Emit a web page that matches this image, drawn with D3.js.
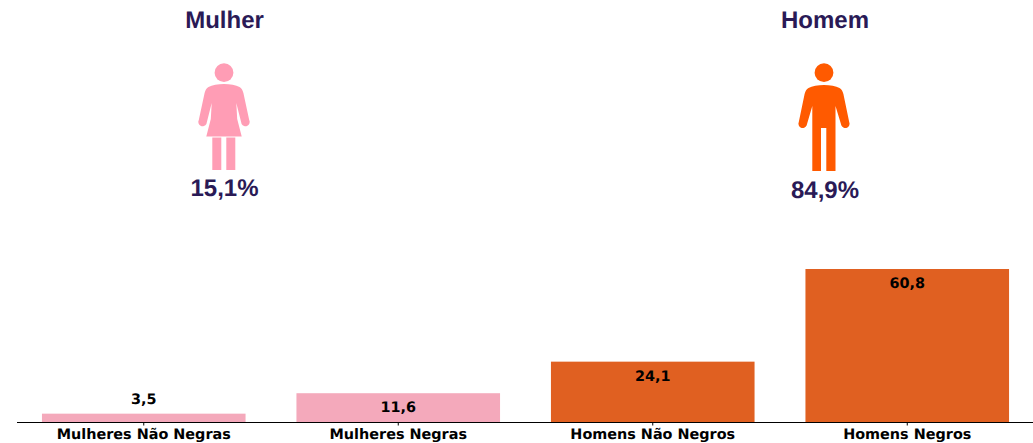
<!DOCTYPE html>
<html>
<head>
<meta charset="utf-8">
<script src="https://cdn.jsdelivr.net/npm/d3@7/dist/d3.min.js"></script>
<style>
html,body{margin:0;padding:0;background:#fff;overflow:hidden}
svg{display:block}
text{text-rendering:geometricPrecision}
</style>
</head>
<body>
<svg id="chart" width="1033" height="443"></svg>
<script>
const categories = ["Mulheres Não Negras", "Mulheres Negras", "Homens Não Negros", "Homens Negros"];
const values = [3.5, 11.6, 24.1, 60.8];
const valueLabels = ["3,5", "11,6", "24,1", "60,8"];
const barColors = ["#f4a9bb", "#f4a9bb", "#e06021", "#e06021"];
const labelOffsets = [-14.5, 14, 14, 13.5];
const groupTitles = ["Mulher", "Homem"];
const groupShares = ["15,1%", "84,9%"];
const groupColors = ["#ff9db5", "#ff5a00"];
const iconCentres = [224, 824];
const textCentres = [224.5, 825];
const textColor = "#2a1a56";

const svg = d3.select("#chart");
const x = d3.scaleBand().domain(categories).range([16.5, 1034.5]).paddingInner(0.2).paddingOuter(0.1);
const y = d3.scaleLinear().domain([0, 60.8]).range([422.5, 269]);

svg.selectAll("rect.bar").data(categories).join("rect")
  .attr("class", "bar")
  .attr("x", d => x(d))
  .attr("width", x.bandwidth())
  .attr("y", (d, i) => y(values[i]))
  .attr("height", (d, i) => y(0) - y(values[i]))
  .attr("fill", (d, i) => barColors[i]);

const axis = svg.append("g").attr("transform", "translate(0,422)")
  .call(d3.axisBottom(x).tickSize(3.5).tickPadding(3).tickSizeOuter(0));
axis.select(".domain").attr("stroke", "#000").attr("stroke-width", 1);
axis.selectAll(".tick line").attr("stroke", "#000").attr("stroke-width", 1);
axis.selectAll(".tick text")
  .attr("fill", "#000")
  .style("font", "bold 14.4px 'DejaVu Sans'");

svg.selectAll("text.val").data(categories).join("text")
  .attr("class", "val")
  .attr("x", d => x(d) + x.bandwidth() / 2)
  .attr("y", (d, i) => y(values[i]) + labelOffsets[i])
  .attr("dy", "0.35em")
  .attr("text-anchor", "middle")
  .attr("fill", "#000")
  .style("font", "bold 14.4px 'DejaVu Sans'")
  .text((d, i) => valueLabels[i]);

const womanPath = "M0,84 C6,84 12,85 15.5,87 C17.5,88.2 18.6,90 19.4,93 L25.2,120 A4,4 0 0 1 17.6,124 L12.3,103 L13.2,119 L17.7,136.5 L-17.7,136.5 L-13.2,119 L-12.3,103 L-17.6,124 A4,4 0 0 1 -25.2,120 L-19.4,93 C-18.6,90 -17.5,88.2 -15.5,87 C-12,85 -6,84 0,84 Z"
  + " M-11.7,137.5 L-2.7,137.5 L-2.7,170 L-11.7,170 Z M2.3,137.5 L11.3,137.5 L11.3,170 L2.3,170 Z";
const manPath = "M0,85 C6,85 12,86 15.5,88 C17.5,89.2 18.6,91 19.4,94 L25.2,122 A4,4 0 0 1 17.4,125.5 L11.5,106 L11.5,171 L2.3,171 L2.3,128 L-3,128 L-3,171 L-11.7,171 L-11.7,106 L-17.4,125.5 A4,4 0 0 1 -25.2,122 L-19.4,94 C-18.6,91 -17.5,89.2 -15.5,88 C-12,86 -6,85 0,85 Z";
const iconPaths = [womanPath, manPath];
const shareY = [188, 190];

groupTitles.forEach((t, i) => {
  svg.append("text").attr("x", textCentres[i]).attr("y", 20).attr("dy", "0.35em").attr("text-anchor", "middle")
    .attr("fill", textColor).style("font", "bold 24px 'Liberation Sans'").text(t);
  const g = svg.append("g").attr("transform", `translate(${iconCentres[i]},0)`);
  g.append("circle").attr("cy", 72.7).attr("r", 9.4).attr("fill", groupColors[i]);
  g.append("path").attr("d", iconPaths[i]).attr("fill", groupColors[i]);
  svg.append("text").attr("x", textCentres[i]).attr("y", shareY[i]).attr("dy", "0.35em").attr("text-anchor", "middle")
    .attr("fill", textColor).style("font", "bold 24px 'Liberation Sans'").text(groupShares[i]);
});
</script>
</body>
</html>
